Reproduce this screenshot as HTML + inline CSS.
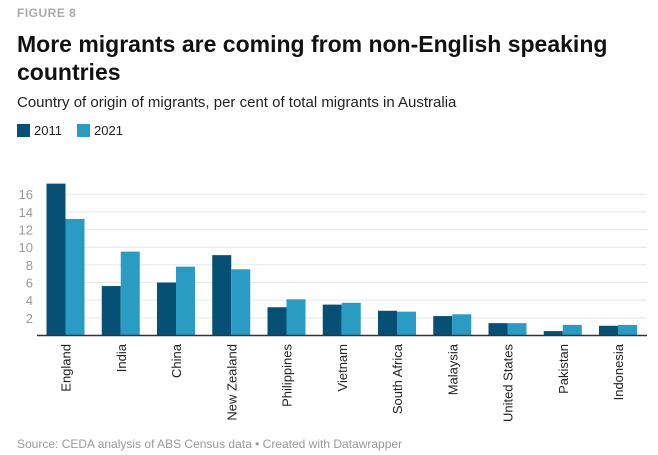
<!DOCTYPE html>
<html><head><meta charset="utf-8"><style>
body{margin:0;width:658px;height:455px;background:#fff;font-family:"Liberation Sans",sans-serif;position:relative;overflow:hidden}
.a{position:absolute;white-space:nowrap}
</style></head><body>
<div class="a" style="left:17px;top:6px;font-size:12px;font-weight:bold;color:#aaa;letter-spacing:0.5px">FIGURE 8</div>
<div class="a" style="left:17px;top:30px;font-size:23px;font-weight:bold;color:#111;line-height:28px">More migrants are coming from non-English speaking<br>countries</div>
<div class="a" style="left:17px;top:94px;font-size:15px;color:#222">Country of origin of migrants, per cent of total migrants in Australia</div>
<div class="a" style="left:17px;top:123px;font-size:13px;color:#222"><span style="display:inline-block;width:13px;height:13px;background:#064f75;vertical-align:-2px;margin-right:4px"></span>2011</div>
<div class="a" style="left:77px;top:123px;font-size:13px;color:#222"><span style="display:inline-block;width:13px;height:13px;background:#2a9bc2;vertical-align:-2px;margin-right:4px"></span>2021</div>
<svg class="a" style="left:0;top:0" width="658" height="455" id="chart"></svg>
<div class="a" style="left:17px;top:437px;font-size:12px;color:#999">Source: CEDA analysis of ABS Census data • Created with Datawrapper</div>
<script>
const categories=["England","India","China","New Zealand","Philippines","Vietnam","South Africa","Malaysia","United States","Pakistan","Indonesia"];
const values2011=[17.2,5.6,6.0,9.1,3.2,3.5,2.8,2.2,1.4,0.5,1.1];
const values2021=[13.2,9.5,7.8,7.5,4.1,3.7,2.7,2.4,1.4,1.2,1.2];
const ticks=[2,4,6,8,10,12,14,16];
const svg=document.getElementById('chart');
const NS='http://www.w3.org/2000/svg';
const base=335.5, ppu=8.83, x0=65.5, step=55.25, bw=19;
const y=v=>base-v*ppu;
const xc=i=>x0+i*step;
function mk(t,a){const e=document.createElementNS(NS,t);for(const k in a)e.setAttribute(k,a[k]);svg.appendChild(e);return e;}
ticks.forEach(t=>{
  const g=mk('line',{x1:67,x2:647,y1:y(t),y2:y(t),stroke:'#e6e6e6','stroke-width':1});
  
  
  const l=mk('text',{x:33,y:y(t)+5,'text-anchor':'end','font-size':13,fill:'#999','font-family':'Liberation Sans, sans-serif'});
  l.textContent=t;
  
  
});
categories.forEach((c,i)=>{
  const b1=mk('rect',{x:xc(i)-bw,y:y(values2011[i]),width:bw,height:values2011[i]*ppu,fill:'#064f75'});
  
  
  const b2=mk('rect',{x:xc(i),y:y(values2021[i]),width:bw,height:values2021[i]*ppu,fill:'#2a9bc2'});
  
  
  const t=mk('text',{transform:`translate(${xc(i)+5},344) rotate(-90)`,'text-anchor':'end','font-size':13,fill:'#222','font-family':'Liberation Sans, sans-serif'});
  t.textContent=c;
  
  
});
const ax=mk('line',{x1:37,x2:647,y1:base,y2:base,stroke:'#333','stroke-width':1.5});


</script>
</body></html>
